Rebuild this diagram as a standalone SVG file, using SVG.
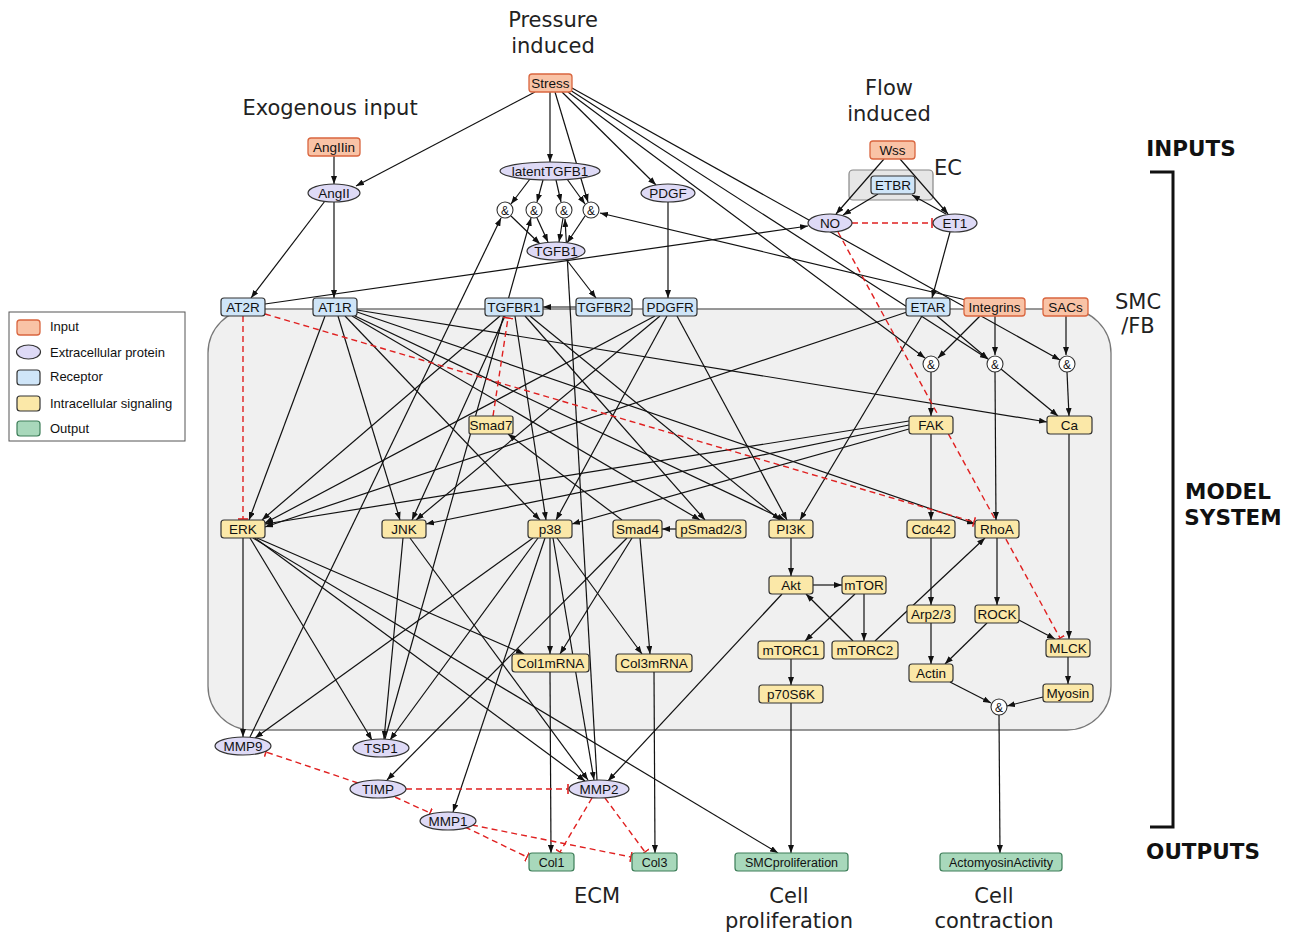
<svg xmlns="http://www.w3.org/2000/svg" width="1298" height="932" viewBox="0 0 1298 932">
<defs>
<marker id="arr" viewBox="0 0 8 6" refX="8" refY="3" markerWidth="8" markerHeight="6" markerUnits="userSpaceOnUse" orient="auto"><path d="M0,0 L8,3 L0,6 z" fill="#111"/></marker>
<marker id="tee" viewBox="-1 -5 2 10" refX="0" refY="0" markerWidth="2" markerHeight="10" markerUnits="userSpaceOnUse" orient="auto"><path d="M0,-5 L0,5" stroke="#e02020" stroke-width="1.6"/></marker>
<style>
text{font-family:"Liberation Sans",Arial,sans-serif;font-size:13.5px;fill:#111;text-anchor:middle}
.t{font-family:"DejaVu Sans","Liberation Sans",sans-serif;font-size:21px;fill:#222}
.b{font-family:"DejaVu Sans","Liberation Sans",sans-serif;font-size:21.5px;font-weight:bold;fill:#111}
.lg{text-anchor:start;font-size:13px}
.inp{fill:#f9c3a6;stroke:#d9663f;stroke-width:1.3}
.ext{fill:#dedaf6;stroke:#333;stroke-width:1.2}
.rec{fill:#cfe5f8;stroke:#333;stroke-width:1.2}
.intr{fill:#fbe8a8;stroke:#333;stroke-width:1.2}
.out{fill:#a8d8bb;stroke:#3d7d58;stroke-width:1.2}
.and{fill:#fff;stroke:#333;stroke-width:1.1}
.ot{font-size:12.5px}
.am{font-size:12px}
#edges line{stroke:#111;stroke-width:1.2;marker-end:url(#arr)}
#edges line.inh{stroke:#e02020;stroke-width:1.4;stroke-dasharray:6 4;marker-end:url(#tee)}
</style>
</defs>
<rect width="1298" height="932" fill="#fff"/>
<path d="M252,309 H1067 A44,44 0 0 1 1111,353 V686 A44,44 0 0 1 1067,730 H252 A44,44 0 0 1 208,686 V353 A44,44 0 0 1 252,309 Z" fill="#f0f0f0" stroke="#777" stroke-width="1.3"/>
<rect x="849" y="170" width="84" height="30" rx="4" fill="#e6e6e6" stroke="#888" stroke-width="1.2"/>
<text class="t" x="553" y="27">Pressure</text>
<text class="t" x="553" y="53">induced</text>
<text class="t" x="330" y="115">Exogenous input</text>
<text class="t" x="889" y="95">Flow</text>
<text class="t" x="889" y="121">induced</text>
<text class="t" x="948" y="175">EC</text>
<text class="t" x="1138" y="309">SMC</text>
<text class="t" x="1138" y="333">/FB</text>
<text class="b" x="1191" y="156">INPUTS</text>
<text class="b" x="1228" y="499">MODEL</text>
<text class="b" x="1233" y="525">SYSTEM</text>
<text class="b" x="1203" y="859">OUTPUTS</text>
<text class="t" x="597" y="903">ECM</text>
<text class="t" x="789" y="903">Cell</text>
<text class="t" x="789" y="928">proliferation</text>
<text class="t" x="994" y="903">Cell</text>
<text class="t" x="994" y="928">contraction</text>
<path d="M1150,172 H1173 V827 H1150" fill="none" stroke="#111" stroke-width="3"/>
<g id="legend">
<rect x="9" y="312" width="176" height="129" fill="#fff" stroke="#555" stroke-width="1"/>
<rect class="inp" x="17" y="320" width="23" height="15" rx="3"/><text class="lg" x="50" y="331">Input</text>
<ellipse class="ext" cx="28.5" cy="352" rx="12" ry="7"/><text class="lg" x="50" y="357">Extracellular protein</text>
<rect class="rec" x="17" y="370" width="23" height="15" rx="3"/><text class="lg" x="50" y="381">Receptor</text>
<rect class="intr" x="17" y="396" width="23" height="15" rx="3"/><text class="lg" x="50" y="408">Intracellular signaling</text>
<rect class="out" x="17" y="421" width="23" height="15" rx="3"/><text class="lg" x="50" y="433">Output</text>
</g>
<g id="edges">
<line x1="535" y1="92" x2="356" y2="186"/>
<line x1="550" y1="92" x2="550" y2="162"/>
<line x1="555" y1="92" x2="588" y2="202"/>
<line x1="562" y1="92" x2="656" y2="185"/>
<line x1="568" y1="92" x2="925" y2="358"/>
<line x1="570" y1="90" x2="988" y2="359"/>
<line x1="572" y1="88" x2="1060" y2="360"/>
<line x1="334" y1="156" x2="334" y2="184"/>
<line x1="325" y1="201" x2="251" y2="298"/>
<line x1="334" y1="202" x2="334" y2="298"/>
<line x1="530" y1="179" x2="511" y2="204"/>
<line x1="543" y1="180" x2="537" y2="202"/>
<line x1="556" y1="180" x2="561" y2="202"/>
<line x1="567" y1="179" x2="585" y2="204"/>
<line x1="511" y1="216" x2="540" y2="244"/>
<line x1="537" y1="218" x2="548" y2="242"/>
<line x1="563" y1="218" x2="559" y2="242"/>
<line x1="585" y1="216" x2="567" y2="243"/>
<line x1="250" y1="737" x2="501" y2="218"/>
<line x1="385" y1="739" x2="531" y2="218"/>
<line x1="597" y1="780" x2="565" y2="219"/>
<line x1="966" y1="300" x2="600" y2="213"/>
<line x1="566" y1="259" x2="596" y2="298"/>
<line x1="668" y1="202" x2="668" y2="298"/>
<line x1="576" y1="307" x2="543" y2="307"/>
<line x1="884" y1="159" x2="836" y2="214"/>
<line x1="900" y1="159" x2="948" y2="214"/>
<line x1="878" y1="194" x2="843" y2="215"/>
<line x1="946" y1="214" x2="912" y2="195"/>
<line x1="950" y1="232" x2="932" y2="298"/>
<line x1="265" y1="304" x2="808" y2="226"/>
<line x1="325" y1="316" x2="249" y2="520"/>
<line x1="338" y1="316" x2="400" y2="520"/>
<line x1="345" y1="316" x2="540" y2="520"/>
<line x1="352" y1="316" x2="700" y2="520"/>
<line x1="355" y1="316" x2="785" y2="520"/>
<line x1="357" y1="312" x2="975" y2="524"/>
<line x1="357" y1="310" x2="1047" y2="422"/>
<line x1="500" y1="316" x2="262" y2="520"/>
<line x1="505" y1="316" x2="412" y2="520"/>
<line x1="515" y1="316" x2="546" y2="520"/>
<line x1="525" y1="316" x2="705" y2="520"/>
<line x1="530" y1="316" x2="780" y2="520"/>
<line x1="655" y1="316" x2="265" y2="523"/>
<line x1="660" y1="316" x2="416" y2="520"/>
<line x1="667" y1="316" x2="556" y2="520"/>
<line x1="677" y1="316" x2="787" y2="520"/>
<line x1="922" y1="316" x2="800" y2="520"/>
<line x1="907" y1="312" x2="265" y2="527"/>
<line x1="937" y1="316" x2="988" y2="359"/>
<line x1="980" y1="316" x2="938" y2="358"/>
<line x1="995" y1="316" x2="995" y2="355"/>
<line x1="1066" y1="316" x2="1066" y2="355"/>
<line x1="931" y1="372" x2="931" y2="416"/>
<line x1="995" y1="372" x2="996" y2="520"/>
<line x1="1001" y1="369" x2="1058" y2="416"/>
<line x1="1067" y1="372" x2="1069" y2="416"/>
<line x1="909" y1="421" x2="265" y2="524"/>
<line x1="909" y1="425" x2="426" y2="524"/>
<line x1="909" y1="429" x2="572" y2="524"/>
<line x1="931" y1="434" x2="931" y2="520"/>
<line x1="1069" y1="434" x2="1069" y2="639"/>
<line x1="622" y1="520" x2="508" y2="434"/>
<line x1="676" y1="529" x2="662" y2="529"/>
<line x1="791" y1="538" x2="791" y2="576"/>
<line x1="813" y1="585" x2="842" y2="585"/>
<line x1="855" y1="594" x2="805" y2="641"/>
<line x1="864" y1="594" x2="864" y2="641"/>
<line x1="853" y1="641" x2="806" y2="594"/>
<line x1="875" y1="641" x2="985" y2="538"/>
<line x1="791" y1="659" x2="791" y2="685"/>
<line x1="791" y1="703" x2="791" y2="853"/>
<line x1="931" y1="538" x2="931" y2="605"/>
<line x1="931" y1="623" x2="931" y2="664"/>
<line x1="997" y1="538" x2="997" y2="605"/>
<line x1="987" y1="623" x2="945" y2="664"/>
<line x1="1017" y1="619" x2="1055" y2="639"/>
<line x1="1068" y1="657" x2="1068" y2="684"/>
<line x1="950" y1="682" x2="991" y2="703"/>
<line x1="1043" y1="697" x2="1007" y2="706"/>
<line x1="999" y1="715" x2="1000" y2="853"/>
<line x1="243" y1="538" x2="243" y2="737"/>
<line x1="250" y1="538" x2="372" y2="740"/>
<line x1="257" y1="538" x2="524" y2="654"/>
<line x1="255" y1="538" x2="585" y2="781"/>
<line x1="253" y1="538" x2="778" y2="853"/>
<line x1="403" y1="538" x2="384" y2="739"/>
<line x1="410" y1="538" x2="588" y2="780"/>
<line x1="533" y1="538" x2="255" y2="738"/>
<line x1="538" y1="538" x2="390" y2="740"/>
<line x1="545" y1="538" x2="453" y2="812"/>
<line x1="550" y1="538" x2="550" y2="654"/>
<line x1="553" y1="538" x2="594" y2="780"/>
<line x1="557" y1="538" x2="642" y2="654"/>
<line x1="627" y1="538" x2="387" y2="780"/>
<line x1="632" y1="538" x2="560" y2="654"/>
<line x1="640" y1="538" x2="650" y2="654"/>
<line x1="782" y1="594" x2="608" y2="781"/>
<line x1="550" y1="672" x2="551" y2="853"/>
<line x1="654" y1="672" x2="655" y2="853"/>
<line class="inh" x1="852" y1="223" x2="932" y2="223"/>
<line class="inh" x1="838" y1="232" x2="1060" y2="638"/>
<line class="inh" x1="243" y1="316" x2="243" y2="519"/>
<line class="inh" x1="265" y1="314" x2="974" y2="522"/>
<line class="inh" x1="493" y1="416" x2="508" y2="318"/>
<line class="inh" x1="358" y1="783" x2="266" y2="752"/>
<line class="inh" x1="406" y1="789" x2="568" y2="789"/>
<line class="inh" x1="395" y1="797" x2="430" y2="813"/>
<line class="inh" x1="465" y1="827" x2="527" y2="857"/>
<line class="inh" x1="472" y1="825" x2="631" y2="857"/>
<line class="inh" x1="592" y1="798" x2="560" y2="852"/>
<line class="inh" x1="605" y1="798" x2="645" y2="852"/>
</g>
<g id="n-Stress"><rect class="inp" x="529" y="74" width="43" height="18" rx="3"/><text x="550.5" y="88">Stress</text></g>
<g id="n-AngIIin"><rect class="inp" x="308" y="138" width="52" height="18" rx="3"/><text x="334" y="152">AngIIin</text></g>
<g id="n-Wss"><rect class="inp" x="870" y="141" width="45" height="18" rx="3"/><text x="892.5" y="155">Wss</text></g>
<g id="n-ETBR"><rect class="rec" x="871" y="176" width="44" height="18" rx="3"/><text x="893" y="190">ETBR</text></g>
<g id="n-AngII"><ellipse class="ext" cx="334" cy="193" rx="26" ry="9"/><text x="334" y="198">AngII</text></g>
<g id="n-latentTGFB1"><ellipse class="ext" cx="550" cy="171" rx="50" ry="9"/><text x="550" y="176">latentTGFB1</text></g>
<g id="n-PDGF"><ellipse class="ext" cx="668" cy="193" rx="27" ry="9"/><text x="668" y="198">PDGF</text></g>
<g id="n-TGFB1"><ellipse class="ext" cx="556" cy="251" rx="29" ry="9"/><text x="556" y="256">TGFB1</text></g>
<g id="n-NO"><ellipse class="ext" cx="830" cy="223" rx="22" ry="9"/><text x="830" y="228">NO</text></g>
<g id="n-ET1"><ellipse class="ext" cx="955" cy="223" rx="22" ry="9"/><text x="955" y="228">ET1</text></g>
<g id="n-and1"><circle class="and" cx="505" cy="210" r="8"/><text class="am" x="505" y="214.5">&amp;</text></g>
<g id="n-and2"><circle class="and" cx="534" cy="210" r="8"/><text class="am" x="534" y="214.5">&amp;</text></g>
<g id="n-and3"><circle class="and" cx="564" cy="210" r="8"/><text class="am" x="564" y="214.5">&amp;</text></g>
<g id="n-and4"><circle class="and" cx="591" cy="210" r="8"/><text class="am" x="591" y="214.5">&amp;</text></g>
<g id="n-AT2R"><rect class="rec" x="221" y="298" width="44" height="18" rx="3"/><text x="243" y="312">AT2R</text></g>
<g id="n-AT1R"><rect class="rec" x="313" y="298" width="44" height="18" rx="3"/><text x="335" y="312">AT1R</text></g>
<g id="n-TGFBR1"><rect class="rec" x="485" y="298" width="58" height="18" rx="3"/><text x="514" y="312">TGFBR1</text></g>
<g id="n-TGFBR2"><rect class="rec" x="576" y="298" width="56" height="18" rx="3"/><text x="604" y="312">TGFBR2</text></g>
<g id="n-PDGFR"><rect class="rec" x="643" y="298" width="54" height="18" rx="3"/><text x="670" y="312">PDGFR</text></g>
<g id="n-ETAR"><rect class="rec" x="906" y="298" width="44" height="18" rx="3"/><text x="928" y="312">ETAR</text></g>
<g id="n-Integrins"><rect class="inp" x="964" y="298" width="61" height="18" rx="3"/><text x="994.5" y="312">Integrins</text></g>
<g id="n-SACs"><rect class="inp" x="1043" y="298" width="45" height="18" rx="3"/><text x="1065.5" y="312">SACs</text></g>
<g id="n-andF"><circle class="and" cx="931" cy="364" r="8"/><text class="am" x="931" y="368.5">&amp;</text></g>
<g id="n-andR"><circle class="and" cx="995" cy="364" r="8"/><text class="am" x="995" y="368.5">&amp;</text></g>
<g id="n-andC"><circle class="and" cx="1067" cy="364" r="8"/><text class="am" x="1067" y="368.5">&amp;</text></g>
<g id="n-FAK"><rect class="intr" x="909" y="416" width="44" height="18" rx="3"/><text x="931" y="430">FAK</text></g>
<g id="n-Ca"><rect class="intr" x="1047" y="416" width="45" height="18" rx="3"/><text x="1069.5" y="430">Ca</text></g>
<g id="n-Smad7"><rect class="intr" x="469" y="416" width="44" height="18" rx="2"/><text x="491" y="430">Smad7</text></g>
<g id="n-ERK"><rect class="intr" x="221" y="520" width="44" height="18" rx="3"/><text x="243" y="534">ERK</text></g>
<g id="n-JNK"><rect class="intr" x="382" y="520" width="44" height="18" rx="3"/><text x="404" y="534">JNK</text></g>
<g id="n-p38"><rect class="intr" x="528" y="520" width="44" height="18" rx="3"/><text x="550" y="534">p38</text></g>
<g id="n-Smad4"><rect class="intr" x="613" y="520" width="49" height="18" rx="3"/><text x="637.5" y="534">Smad4</text></g>
<g id="n-pSmad23"><rect class="intr" x="676" y="520" width="70" height="18" rx="3"/><text x="711" y="534">pSmad2/3</text></g>
<g id="n-PI3K"><rect class="intr" x="769" y="520" width="44" height="18" rx="3"/><text x="791" y="534">PI3K</text></g>
<g id="n-Cdc42"><rect class="intr" x="907" y="520" width="48" height="18" rx="3"/><text x="931" y="534">Cdc42</text></g>
<g id="n-RhoA"><rect class="intr" x="975" y="520" width="44" height="18" rx="3"/><text x="997" y="534">RhoA</text></g>
<g id="n-Akt"><rect class="intr" x="769" y="576" width="44" height="18" rx="3"/><text x="791" y="590">Akt</text></g>
<g id="n-mTOR"><rect class="intr" x="842" y="576" width="44" height="18" rx="3"/><text x="864" y="590">mTOR</text></g>
<g id="n-Arp23"><rect class="intr" x="907" y="605" width="48" height="18" rx="3"/><text x="931" y="619">Arp2/3</text></g>
<g id="n-ROCK"><rect class="intr" x="975" y="605" width="44" height="18" rx="3"/><text x="997" y="619">ROCK</text></g>
<g id="n-mTORC1"><rect class="intr" x="758" y="641" width="66" height="18" rx="3"/><text x="791" y="655">mTORC1</text></g>
<g id="n-mTORC2"><rect class="intr" x="832" y="641" width="66" height="18" rx="3"/><text x="865" y="655">mTORC2</text></g>
<g id="n-MLCK"><rect class="intr" x="1046" y="639" width="44" height="18" rx="3"/><text x="1068" y="653">MLCK</text></g>
<g id="n-Col1mRNA"><rect class="intr" x="512" y="654" width="77" height="18" rx="3"/><text x="550.5" y="668">Col1mRNA</text></g>
<g id="n-Col3mRNA"><rect class="intr" x="616" y="654" width="76" height="18" rx="3"/><text x="654" y="668">Col3mRNA</text></g>
<g id="n-Actin"><rect class="intr" x="909" y="664" width="44" height="18" rx="3"/><text x="931" y="678">Actin</text></g>
<g id="n-p70S6K"><rect class="intr" x="759" y="685" width="64" height="18" rx="3"/><text x="791" y="699">p70S6K</text></g>
<g id="n-Myosin"><rect class="intr" x="1043" y="684" width="50" height="18" rx="3"/><text x="1068" y="698">Myosin</text></g>
<g id="n-andA"><circle class="and" cx="999" cy="707" r="8"/><text class="am" x="999" y="711.5">&amp;</text></g>
<g id="n-MMP9"><ellipse class="ext" cx="243" cy="746" rx="28" ry="9"/><text x="243" y="751">MMP9</text></g>
<g id="n-TSP1"><ellipse class="ext" cx="381" cy="748" rx="28" ry="9"/><text x="381" y="753">TSP1</text></g>
<g id="n-TIMP"><ellipse class="ext" cx="378" cy="789" rx="28" ry="9"/><text x="378" y="794">TIMP</text></g>
<g id="n-MMP2"><ellipse class="ext" cx="599" cy="789" rx="30" ry="9"/><text x="599" y="794">MMP2</text></g>
<g id="n-MMP1"><ellipse class="ext" cx="448" cy="821" rx="28" ry="9"/><text x="448" y="826">MMP1</text></g>
<g id="n-Col1"><rect class="out" x="529" y="853" width="45" height="18" rx="3"/><text class="ot" x="551.5" y="866.5">Col1</text></g>
<g id="n-Col3"><rect class="out" x="632" y="853" width="45" height="18" rx="3"/><text class="ot" x="654.5" y="866.5">Col3</text></g>
<g id="n-SMCproliferation"><rect class="out" x="735" y="853" width="113" height="18" rx="3"/><text class="ot" x="791.5" y="866.5">SMCproliferation</text></g>
<g id="n-ActomyosinActivity"><rect class="out" x="940" y="853" width="122" height="18" rx="3"/><text class="ot" x="1001" y="866.5">ActomyosinActivity</text></g>
</svg>
